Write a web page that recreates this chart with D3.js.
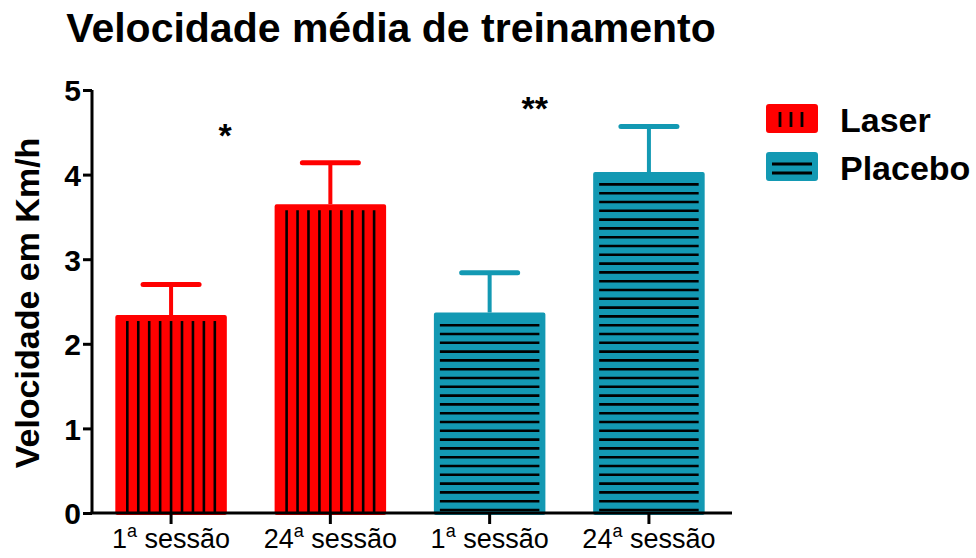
<!DOCTYPE html>
<html>
<head>
<meta charset="utf-8">
<script src="https://cdn.jsdelivr.net/npm/d3@7"></script>
<style>
  html, body { margin: 0; padding: 0; background: #fff; }
  svg { display: block; }
  text { font-family: "Liberation Sans", Arial, sans-serif; }
</style>
</head>
<body>
<svg id="chart" width="976" height="558"></svg>
<script>
// ---- data ----
const categories = ["1ª sessão", "24ª sessão", "1ª sessão ", "24ª sessão "];
const groups = ["Laser", "Laser", "Placebo", "Placebo"];
const means = [2.34, 3.65, 2.37, 4.03];
const sds = [0.36, 0.49, 0.47, 0.54];
const yTicks = [0, 1, 2, 3, 4, 5];
const legendItems = ["Laser", "Placebo"];
const significance = [
  { label: "*", anchor: 0, value: 4.33 },
  { label: "**", anchor: 2, value: 4.65 }
];

const colors = { Laser: "#ff0000", Placebo: "#1399b3" };
const sigOffsets = [54, 45];

const svg = d3.select("#chart");

const x = d3.scaleBand()
  .domain(d3.range(categories.length))
  .range([90, 730])
  .paddingInner(0.3)
  .paddingOuter(0.159);

const y = d3.scaleLinear().domain([0, 5]).range([513, 90]);

// title
svg.append("text")
  .attr("x", 391).attr("y", 42)
  .attr("text-anchor", "middle")
  .attr("font-size", 41).attr("font-weight", "bold")
  .text("Velocidade média de treinamento");

// y title
svg.append("text")
  .attr("transform", "translate(39,303) rotate(-90)")
  .attr("text-anchor", "middle")
  .attr("font-size", 34).attr("font-weight", "bold")
  .text("Velocidade em Km/h");

// bars
const bw = x.bandwidth();
const barG = svg.append("g");
categories.forEach((c, i) => {
  const col = colors[groups[i]];
  const x0 = x(i);
  const yTop = y(means[i]);
  const yBase = y(0);
  // error bar
  const yErr = y(means[i] + sds[i]);
  barG.append("line")
    .attr("x1", x0 + bw / 2).attr("x2", x0 + bw / 2)
    .attr("y1", yTop).attr("y2", yErr)
    .attr("stroke", col).attr("stroke-width", 4);
  barG.append("line")
    .attr("x1", x0 + bw / 2 - 28).attr("x2", x0 + bw / 2 + 28)
    .attr("y1", yErr).attr("y2", yErr)
    .attr("stroke", col).attr("stroke-width", 5)
    .attr("stroke-linecap", "round");
  // bar
  barG.append("rect")
    .attr("x", x0 + 2).attr("y", yTop + 2)
    .attr("width", bw - 4).attr("height", yBase - yTop - 2)
    .attr("fill", col).attr("stroke", col).attr("stroke-width", 4)
    .attr("stroke-linejoin", "round");
  // hatching
  if (groups[i] === "Laser") {
    const n = 9, inset = 12;
    const sp = (bw - 2 * inset) / (n - 1);
    for (let k = 0; k < n; k++) {
      const lx = x0 + inset + k * sp;
      barG.append("line")
        .attr("x1", lx).attr("x2", lx)
        .attr("y1", yTop + 6).attr("y2", yBase)
        .attr("stroke", "#000").attr("stroke-width", 2.6);
    }
  } else {
    const sp = 8.8;
    for (let ly = yBase - 3; ly > yTop + 8; ly -= sp) {
      barG.append("line")
        .attr("x1", x0 + 6).attr("x2", x0 + bw - 6)
        .attr("y1", ly).attr("y2", ly)
        .attr("stroke", "#000").attr("stroke-width", 2.6);
    }
  }
});

// y axis
const yAxis = svg.append("g")
  .attr("transform", "translate(92,0)")
  .call(d3.axisLeft(y).tickValues(yTicks).tickFormat(d3.format("d")).tickSize(9).tickPadding(2));
yAxis.select(".domain").attr("stroke", "#000").attr("stroke-width", 3).attr("d", `M0,${y(5)}V${y(0)}`);
yAxis.selectAll(".tick line").attr("stroke", "#000").attr("stroke-width", 3);
yAxis.selectAll(".tick text")
  .attr("font-size", 30).attr("font-weight", "bold")
  .attr("font-family", "Liberation Sans, Arial, sans-serif")
  .attr("fill", "#000").attr("dy", "0.36em");

// x axis
const xAxis = svg.append("g")
  .attr("transform", `translate(0,${y(0)})`)
  .call(d3.axisBottom(x).tickSize(11).tickFormat(() => ""));
xAxis.select(".domain").attr("stroke", "#000").attr("stroke-width", 3).attr("d", "M90.5,0H732");
xAxis.selectAll(".tick line").attr("stroke", "#000").attr("stroke-width", 3);
xAxis.selectAll(".tick").each(function (d) {
  const label = categories[d].trim();
  const m = label.match(/^(\d+)ª (.*)$/);
  const t = d3.select(this).append("text")
    .attr("y", 35).attr("text-anchor", "middle")
    .attr("font-size", 27).attr("fill", "#000")
    .attr("font-family", "Liberation Sans, Arial, sans-serif");
  t.append("tspan").text(m[1]);
  t.append("tspan").text("a").attr("font-size", 18).attr("dy", -11);
  t.append("tspan").text(" " + m[2]).attr("dy", 11);
});

// significance markers
significance.forEach((s, i) => {
  svg.append("text")
    .attr("x", x(s.anchor) + bw / 2 + sigOffsets[i])
    .attr("y", y(s.value))
    .attr("text-anchor", "middle")
    .attr("font-size", 34).attr("font-weight", "bold")
    .text(s.label);
});

// legend
const lg = svg.append("g").attr("transform", "translate(766,104)");
legendItems.forEach((name, i) => {
  const g = lg.append("g").attr("transform", `translate(0,${i * 48})`);
  const col = colors[name];
  g.append("rect").attr("x", 1).attr("y", 1).attr("width", 50).attr("height", 27)
    .attr("rx", 2).attr("fill", col).attr("stroke", col).attr("stroke-width", 2);
  if (name === "Laser") {
    [14, 25, 36].forEach(lx => g.append("line")
      .attr("x1", lx).attr("x2", lx).attr("y1", 8).attr("y2", 23)
      .attr("stroke", "#000").attr("stroke-width", 2.8));
  } else {
    [12, 21].forEach(ly => g.append("line")
      .attr("x1", 6).attr("x2", 46).attr("y1", ly).attr("y2", ly)
      .attr("stroke", "#000").attr("stroke-width", 2.8));
  }
  g.append("text").attr("x", 74).attr("y", 28)
    .attr("font-size", 34).attr("font-weight", "bold").text(name);
});
</script>
</body>
</html>
